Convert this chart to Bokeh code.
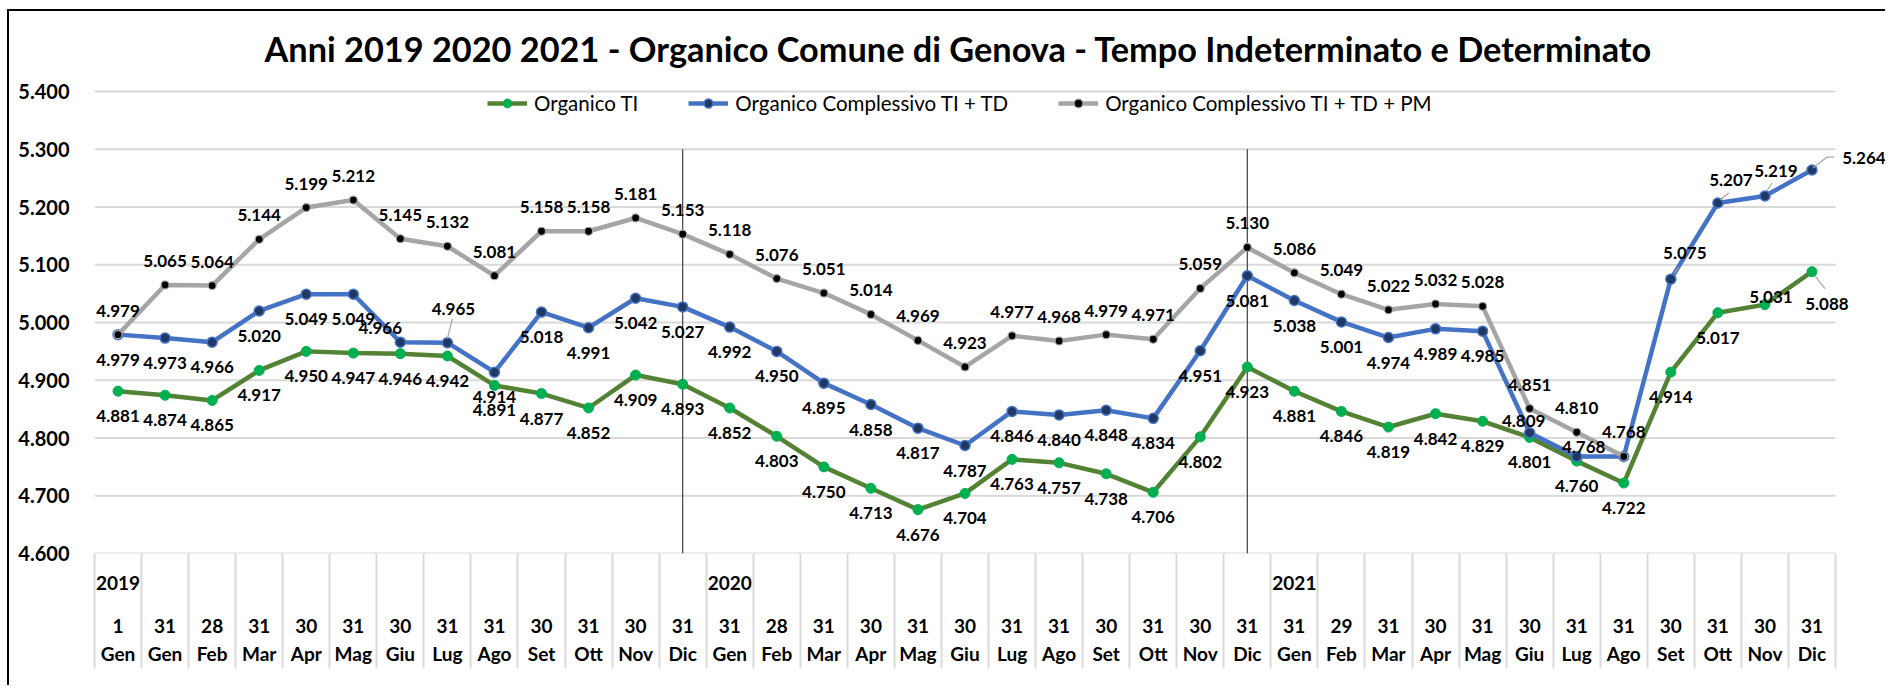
from bokeh.plotting import figure
from bokeh.models import (Range1d, FixedTicker, LinearAxis, LabelSet, ColumnDataSource,
                          Legend, LegendItem)
from bokeh.core.properties import value
from bokeh.embed import file_html
from bokeh.resources import INLINE

NAN = float("nan")

# ---------------- data ----------------
title_text = "Anni 2019 2020 2021 - Organico Comune di Genova - Tempo Indeterminato e Determinato"

years = ["2019"] * 13 + ["2020"] * 12 + ["2021"] * 12
days = ["1", "31", "28", "31", "30", "31", "30", "31", "31", "30", "31", "30", "31",
        "31", "28", "31", "30", "31", "30", "31", "31", "30", "31", "30", "31",
        "31", "29", "31", "30", "31", "30", "31", "31", "30", "31", "30", "31"]
months = ["Gen", "Gen", "Feb", "Mar", "Apr", "Mag", "Giu", "Lug", "Ago", "Set", "Ott", "Nov", "Dic",
          "Gen", "Feb", "Mar", "Apr", "Mag", "Giu", "Lug", "Ago", "Set", "Ott", "Nov", "Dic",
          "Gen", "Feb", "Mar", "Apr", "Mag", "Giu", "Lug", "Ago", "Set", "Ott", "Nov", "Dic"]

organico_ti = [4881, 4874, 4865, 4917, 4950, 4947, 4946, 4942, 4891, 4877, 4852, 4909, 4893,
               4852, 4803, 4750, 4713, 4676, 4704, 4763, 4757, 4738, 4706, 4802, 4923,
               4881, 4846, 4819, 4842, 4829, 4801, 4760, 4722, 4914, 5017, 5031, 5088]
organico_ti_td = [4979, 4973, 4966, 5020, 5049, 5049, 4966, 4965, 4914, 5018, 4991, 5042, 5027,
                  4992, 4950, 4895, 4858, 4817, 4787, 4846, 4840, 4848, 4834, 4951, 5081,
                  5038, 5001, 4974, 4989, 4985, 4809, 4768, 4768, 5075, 5207, 5219, 5264]
organico_ti_td_pm = [4979, 5065, 5064, 5144, 5199, 5212, 5145, 5132, 5081, 5158, 5158, 5181, 5153,
                     5118, 5076, 5051, 5014, 4969, 4923, 4977, 4968, 4979, 4971, 5059, 5130,
                     5086, 5049, 5022, 5032, 5028, 4851, 4810, 4768, NAN, NAN, NAN, NAN]

series_names = ["Organico TI", "Organico Complessivo TI + TD", "Organico Complessivo TI + TD + PM"]
y_ticks = [4600, 4700, 4800, 4900, 5000, 5100, 5200, 5300, 5400]

# ---------------- styling ----------------
FONT = "Lato"
GRID = "#D9D9D9"
W, H = 1878, 676
BL, BT_CORE, BB = 85, 80, 134
TOP_PAD = 8                # extra frame room above the top gridline (legend sits there)
PLOT_RIGHT = 1826          # right end of the category area (canvas px)

n = len(days)
x = list(range(n))
px_x = (PLOT_RIGHT - BL) / n
px_y = (H - BT_CORE - BB) / (y_ticks[-1] - y_ticks[0])
x_start = -0.5
x_end = x_start + (W - BL) / px_x   # frame runs to the canvas edge so outer labels are not cut
y_start = y_ticks[0]
y_end = y_ticks[-1] + TOP_PAD / px_y


def fmt(v):
    return f"{int(v):,}".replace(",", ".")


p = figure(width=W, height=H, x_range=Range1d(x_start, x_end),
           y_range=Range1d(y_start, y_end),
           output_backend="svg", toolbar_location=None, x_axis_location=None,
           min_border_left=BL, min_border_right=0, min_border_top=BT_CORE - TOP_PAD,
           min_border_bottom=BB)
p.margin = (9, 0, 0, 7)
p.styles = {"border-left": "2px solid #000000", "border-top": "2px solid #000000"}
p.outline_line_color = None
p.background_fill_color = "white"
p.border_fill_color = "white"

# title
p.title.text = title_text
p.title.align = "left"
p.title.offset = 170
p.title.text_font = FONT
p.title.text_font_style = "bold"
p.title.text_font_size = "34.3px"
p.title.text_color = "#000000"
p.title.standoff = 29

# y axis
yax = p.yaxis[0]
yax.ticker = FixedTicker(ticks=y_ticks)
yax.major_label_overrides = {t: fmt(t) for t in y_ticks}
yax.axis_line_color = None
yax.major_tick_line_color = None
yax.minor_tick_line_color = None
yax.major_tick_out = 0
yax.major_tick_in = 0
yax.minor_tick_out = 0
yax.minor_tick_in = 0
yax.major_label_text_font = FONT
yax.major_label_text_font_style = "bold"
yax.major_label_text_font_size = "20px"
yax.major_label_text_color = "#000000"
yax.major_label_standoff = 25

for g in p.ygrid:
    g.visible = False
for g in p.xgrid:
    g.visible = False

# horizontal gridlines limited to the category area
p.segment(x0=[x_start] * len(y_ticks), y0=y_ticks, x1=[n - 0.5] * len(y_ticks), y1=y_ticks,
          line_color=GRID, line_width=2)

# x axes: year row + day/month row, separators as (outward) minor ticks
year_starts = [i for i in range(n) if i == 0 or years[i] != years[i - 1]]
boundaries = [i - 0.5 for i in range(n + 1)]

year_axis = LinearAxis(ticker=FixedTicker(ticks=year_starts, minor_ticks=boundaries),
                       major_label_overrides={i: years[i] for i in year_starts})
year_axis.axis_line_color = None
year_axis.major_tick_out = 0
year_axis.major_tick_in = 0
year_axis.major_tick_line_color = None
year_axis.minor_tick_out = 0
year_axis.minor_tick_in = -115
year_axis.minor_tick_line_color = GRID
year_axis.minor_tick_line_width = 2
year_axis.major_label_text_font = FONT
year_axis.major_label_text_font_style = "bold"
year_axis.major_label_text_font_size = "19px"
year_axis.major_label_text_color = "#000000"
year_axis.major_label_standoff = 22
p.add_layout(year_axis, "below")

dm_axis = LinearAxis(ticker=FixedTicker(ticks=x),
                     major_label_overrides={i: f"{days[i]}\n{months[i]}" for i in x})
dm_axis.axis_line_color = None
dm_axis.major_tick_line_color = None
dm_axis.minor_tick_line_color = None
dm_axis.major_tick_out = 0
dm_axis.major_tick_in = 0
dm_axis.minor_tick_out = 0
dm_axis.minor_tick_in = 0
dm_axis.major_label_text_font = FONT
dm_axis.major_label_text_font_style = "bold"
dm_axis.major_label_text_font_size = "19px"
dm_axis.major_label_text_color = "#000000"
dm_axis.major_label_text_line_height = 1.26
dm_axis.major_label_standoff = 21
p.add_layout(dm_axis, "below")

# year separators at the last point of each year
sep_x = [s - 1 for s in year_starts[1:]]
p.segment(x0=sep_x, y0=[5300] * len(sep_x), x1=sep_x, y1=[y_ticks[0]] * len(sep_x),
          line_color="#404040", line_width=1.2)

# series
src = ColumnDataSource(dict(x=x, ti=organico_ti, td=organico_ti_td, pm=organico_ti_td_pm))

g_line = p.line("x", "ti", source=src, line_color="#548235", line_width=4.5)
g_pts = p.scatter("x", "ti", source=src, size=10, fill_color="#00B050", line_color="#00B050")
b_line = p.line("x", "td", source=src, line_color="#4472C4", line_width=4.5)
b_pts = p.scatter("x", "td", source=src, size=10, fill_color="#203864", line_color="#4472C4",
                  line_width=1.5)
k_line = p.line("x", "pm", source=src, line_color="#A5A5A5", line_width=4.5)
k_pts = p.scatter("x", "pm", source=src, size=8, fill_color="#000000", line_color="#A5A5A5",
                  line_width=1.2)

# data labels (offsets in screen px, positive = up)
label_default = {"ti": -25, "td": -25, "pm": 24}
label_override = {
    "td": {6: (-20, 14), 7: (6, 34), 30: (-6, 12), 31: (7, 9),
           33: (14, 26), 34: (13, 23), 35: (11, 25), 36: (52, 12)},
    "ti": {35: (6, 8), 36: (15, -32)},
    "pm": {},
}
label_hidden = {"td": [32], "ti": [], "pm": []}
leaders = {
    ("td", 7): [(0, 4), (5, 24)],
    ("td", 33): [(3, 5), (8, 12)],
    ("td", 34): [(2, 3), (11, 10)],
    ("td", 35): [(2, 5), (7, 13)],
    ("td", 36): [(1, 2), (15, 13), (22, 13)],
    ("ti", 36): [(3, -4), (13, -17)],
}
vals = {"ti": organico_ti, "td": organico_ti_td, "pm": organico_ti_td_pm}

for key in ["ti", "td", "pm"]:
    lx, ly, lt, ldx, ldy = [], [], [], [], []
    for i, v in enumerate(vals[key]):
        if v != v or i in label_hidden[key]:
            continue
        dx, dy = label_override[key].get(i, (0, label_default[key]))
        lx.append(i)
        ly.append(v)
        lt.append(fmt(v))
        ldx.append(dx)
        ldy.append(dy)
    ls = ColumnDataSource(dict(x=lx, y=ly, text=lt, dx=ldx, dy=ldy))
    p.add_layout(LabelSet(x="x", y="y", text="text", x_offset="dx", y_offset="dy", source=ls,
                          text_font=value(FONT), text_font_style="bold", text_font_size="17px",
                          text_color="#000000", text_align="center", text_baseline="middle"))

lead_xs, lead_ys = [], []
for (key, i), pts in leaders.items():
    v = vals[key][i]
    lead_xs.append([i + dx / px_x for dx, dy in pts])
    lead_ys.append([v + dy / px_y for dx, dy in pts])
p.multi_line(lead_xs, lead_ys, line_color="#A6A6A6", line_width=1.2)

legend = Legend(items=[LegendItem(label=series_names[0], renderers=[g_line, g_pts]),
                       LegendItem(label=series_names[1], renderers=[b_line, b_pts]),
                       LegendItem(label=series_names[2], renderers=[k_line, k_pts])],
                location=(393, 438), orientation="horizontal", glyph_width=40, glyph_height=22,
                label_standoff=7, spacing=50, padding=0, margin=0,
                border_line_color=None, background_fill_alpha=0,
                label_text_font=FONT, label_text_font_size="20.5px", label_text_color="#000000")
p.add_layout(legend, "center")

open("out.html", "w").write(file_html(p, INLINE))
